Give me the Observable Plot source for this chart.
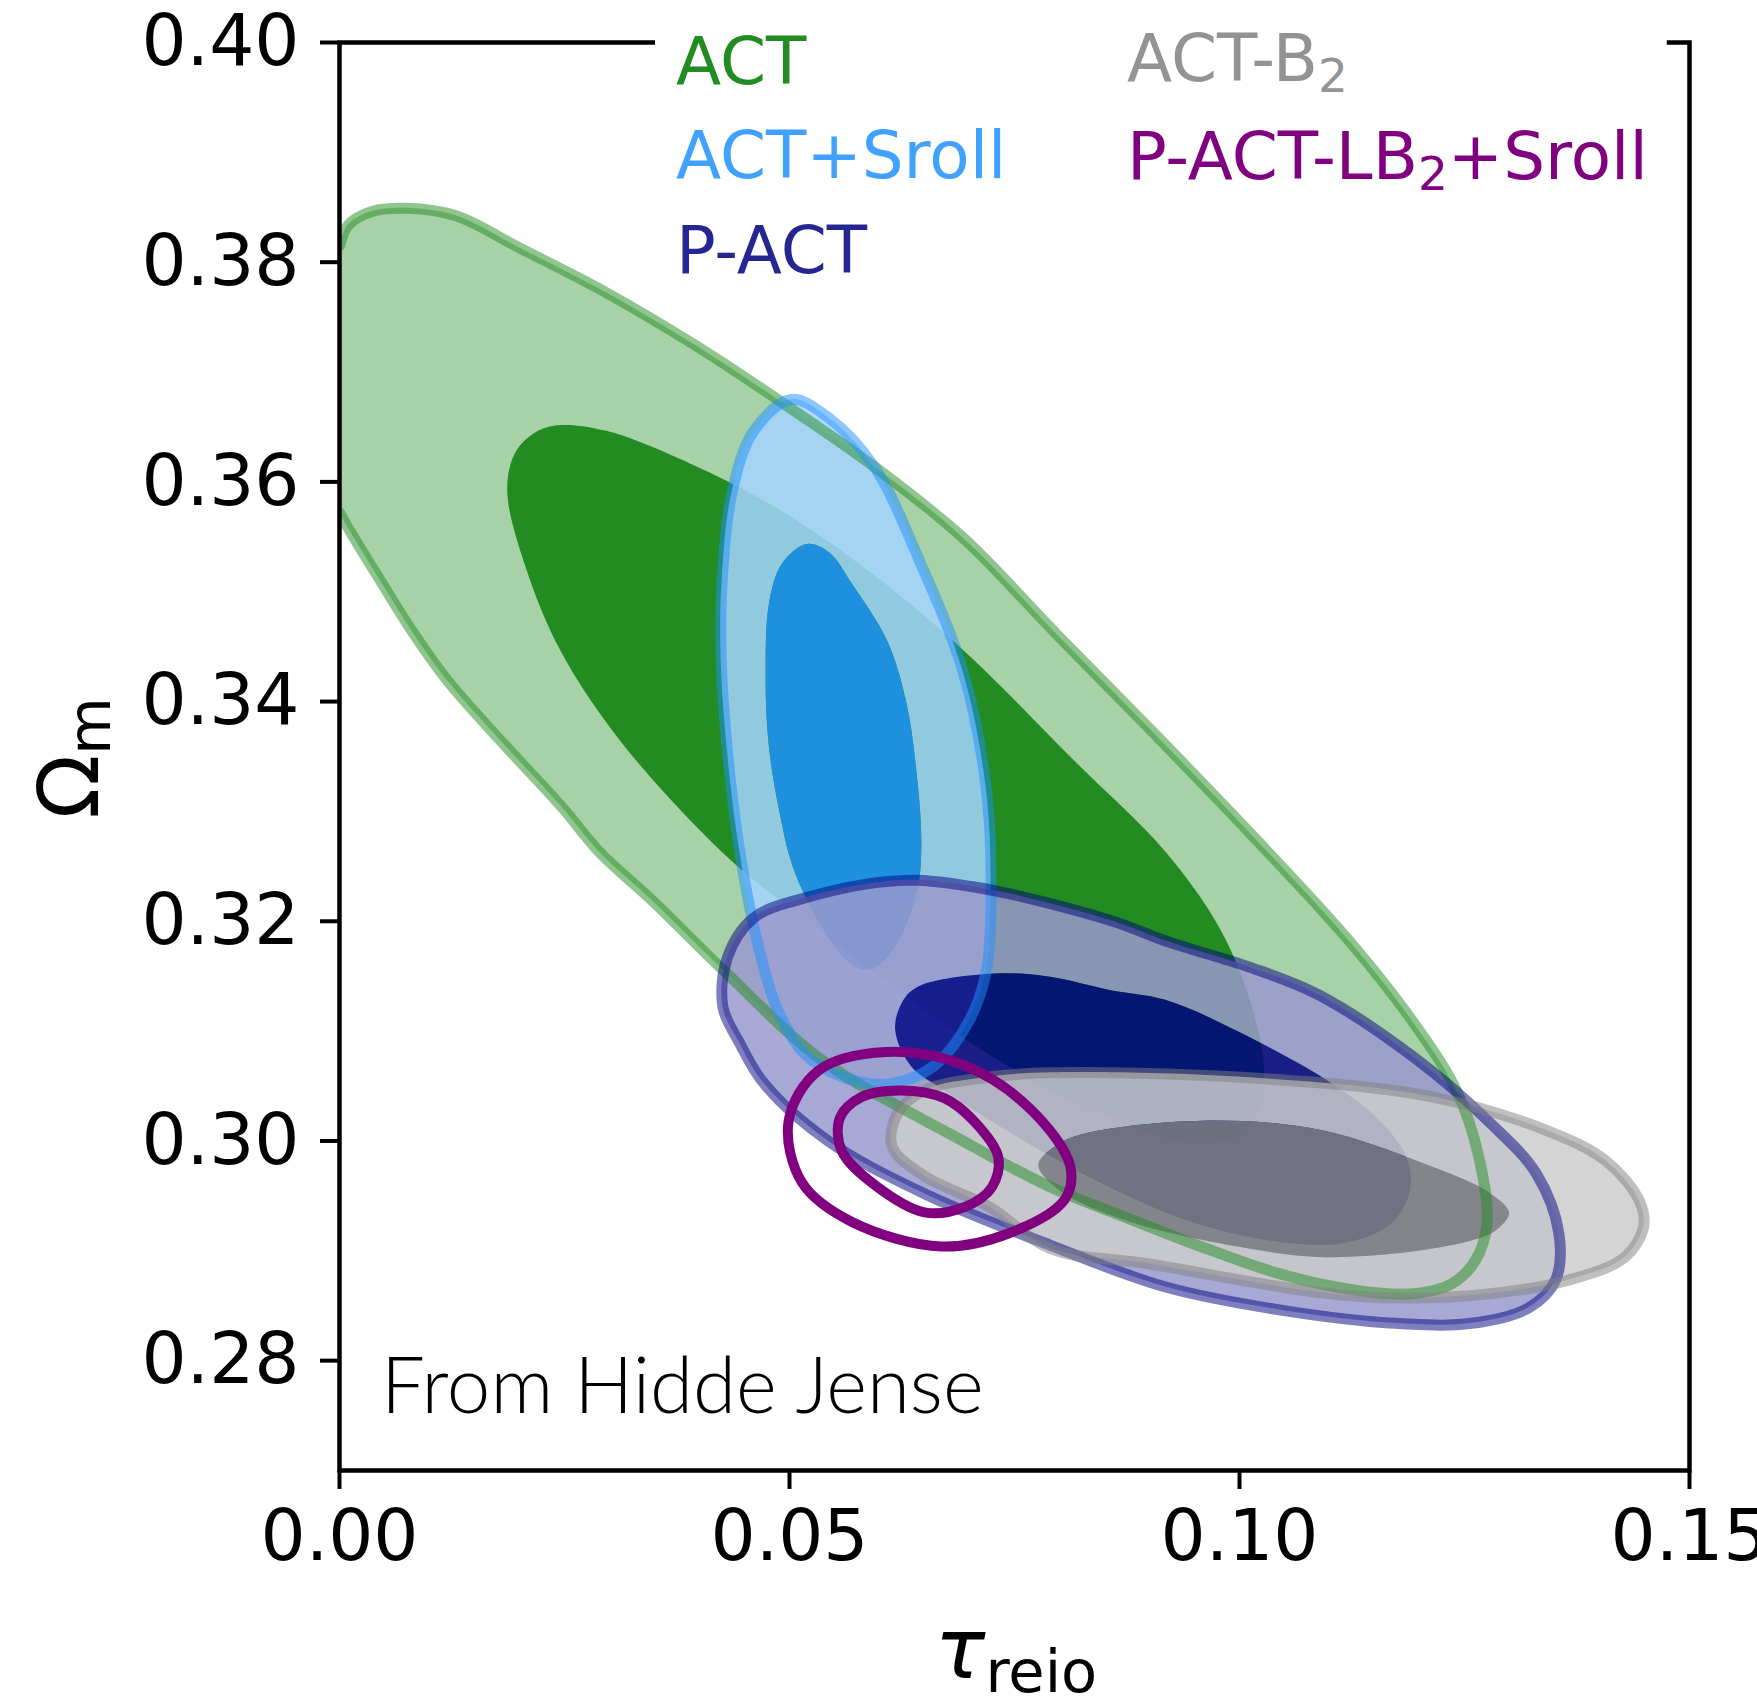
<!DOCTYPE html>
<html><head><meta charset="utf-8">
<script src="https://cdn.jsdelivr.net/npm/d3@7"></script>
<script src="https://cdn.jsdelivr.net/npm/@observablehq/plot@0.6"></script>
<style>
html,body{margin:0;padding:0;background:#fff;overflow:hidden;}
</style></head><body><div id="chart"></div>
<script>
// ---- axis ticks ----
const xTicks = [0.00, 0.05, 0.10, 0.15];
const yTicks = [0.28, 0.30, 0.32, 0.34, 0.36, 0.38, 0.40];
const xDomain = [0, 0.15];
const yDomain = [0.27, 0.40];

// ---- series ----
const seriesNames = ["ACT", "ACT+Sroll", "P-ACT", "ACT-B2", "P-ACT-LB2+Sroll"];
const seriesColors = ["#228B22", "#1E90FF", "#000080", "#808080", "#800080"];

// contour points [tau_reio, Omega_m]
const actOuter = [[0.0000,0.3815],[0.0010,0.3834],[0.0035,0.3846],[0.0075,0.3849],[0.0130,0.3842],[0.0200,0.3813],[0.0297,0.3772],[0.0396,0.3724],[0.0494,0.3671],[0.0594,0.3614],[0.0693,0.3549],[0.0796,0.3462],[0.0898,0.3377],[0.1012,0.3280],[0.1122,0.3182],[0.1194,0.3107],[0.1241,0.3046],[0.1266,0.2985],[0.1275,0.2925],[0.1262,0.2891],[0.1236,0.2870],[0.1194,0.2861],[0.1130,0.2864],[0.1045,0.2879],[0.0960,0.2903],[0.0875,0.2930],[0.0790,0.2958],[0.0686,0.3003],[0.0537,0.3073],[0.0431,0.3152],[0.0346,0.3220],[0.0290,0.3262],[0.0246,0.3305],[0.0184,0.3360],[0.0121,0.3418],[0.0084,0.3460],[0.0047,0.3508],[0.0009,0.3559],[0.0000,0.3572]];
const actInner = [[0.0187,0.3590],[0.0195,0.3625],[0.0215,0.3643],[0.0242,0.3651],[0.0297,0.3646],[0.0396,0.3614],[0.0494,0.3572],[0.0594,0.3515],[0.0694,0.3446],[0.0819,0.3344],[0.0918,0.3263],[0.0980,0.3191],[0.1015,0.3120],[0.1028,0.3060],[0.1020,0.3022],[0.0995,0.3003],[0.0955,0.2998],[0.0900,0.3008],[0.0800,0.3042],[0.0700,0.3090],[0.0600,0.3150],[0.0520,0.3200],[0.0445,0.3248],[0.0370,0.3309],[0.0302,0.3375],[0.0246,0.3446],[0.0209,0.3518]];
const srollOuter = [[0.0502,0.3675],[0.0544,0.3658],[0.0594,0.3614],[0.0644,0.3529],[0.0693,0.3427],[0.0718,0.3325],[0.0724,0.3240],[0.0718,0.3152],[0.0698,0.3107],[0.0660,0.3068],[0.0610,0.3052],[0.0560,0.3058],[0.0516,0.3080],[0.0486,0.3121],[0.0464,0.3182],[0.0443,0.3273],[0.0430,0.3364],[0.0424,0.3440],[0.0425,0.3508],[0.0436,0.3590],[0.0460,0.3646]];
const srollInner = [[0.0520,0.3543],[0.0545,0.3535],[0.0569,0.3508],[0.0609,0.3455],[0.0630,0.3400],[0.0641,0.3340],[0.0647,0.3273],[0.0643,0.3230],[0.0622,0.3182],[0.0600,0.3160],[0.0585,0.3155],[0.0565,0.3163],[0.0546,0.3182],[0.0507,0.3243],[0.0488,0.3305],[0.0477,0.3364],[0.0474,0.3430],[0.0478,0.3490],[0.0492,0.3525]];
const pactOuter = [[0.0426,0.3122],[0.0431,0.3167],[0.0460,0.3203],[0.0516,0.3221],[0.0622,0.3237],[0.0707,0.3231],[0.0856,0.3201],[0.0918,0.3182],[0.1012,0.3158],[0.1088,0.3133],[0.1194,0.3076],[0.1279,0.3016],[0.1330,0.2970],[0.1355,0.2915],[0.1351,0.2873],[0.1321,0.2848],[0.1258,0.2834],[0.1172,0.2834],[0.1046,0.2846],[0.0918,0.2867],[0.0790,0.2905],[0.0650,0.2952],[0.0543,0.3000],[0.0472,0.3052],[0.0444,0.3090]];
const pactInner = [[0.0618,0.3100],[0.0625,0.3125],[0.0643,0.3140],[0.0728,0.3152],[0.0790,0.3149],[0.0856,0.3137],[0.0918,0.3128],[0.1002,0.3098],[0.1109,0.3049],[0.1160,0.3015],[0.1186,0.2985],[0.1190,0.2955],[0.1170,0.2925],[0.1120,0.2907],[0.1050,0.2907],[0.0950,0.2925],[0.0850,0.2960],[0.0750,0.3005],[0.0672,0.3046],[0.0636,0.3067]];
const b2Outer = [[0.0614,0.2995],[0.0620,0.3025],[0.0650,0.3046],[0.0721,0.3058],[0.0790,0.3062],[0.1002,0.3058],[0.1215,0.3040],[0.1343,0.3009],[0.1407,0.2982],[0.1444,0.2946],[0.1449,0.2922],[0.1428,0.2894],[0.1364,0.2873],[0.1279,0.2861],[0.1172,0.2857],[0.1088,0.2862],[0.0900,0.2888],[0.0790,0.2902],[0.0722,0.2940],[0.0650,0.2968]];
const b2Inner = [[0.0777,0.2978],[0.0800,0.2997],[0.0832,0.3007],[0.0960,0.3018],[0.1088,0.3010],[0.1215,0.2976],[0.1279,0.2952],[0.1300,0.2934],[0.1285,0.2918],[0.1258,0.2909],[0.1172,0.2897],[0.1088,0.2894],[0.1002,0.2903],[0.0875,0.2927],[0.0800,0.2955]];
const lbOuter = [[0.0607,0.3081],[0.0694,0.3069],[0.0769,0.3028],[0.0812,0.2977],[0.0806,0.2947],[0.0744,0.2916],[0.0669,0.2904],[0.0570,0.2926],[0.0514,0.2962],[0.0499,0.3018],[0.0532,0.3064]];
const lbInner = [[0.0622,0.3046],[0.0672,0.3039],[0.0705,0.3018],[0.0732,0.2985],[0.0725,0.2958],[0.0695,0.2940],[0.0650,0.2935],[0.0593,0.2961],[0.0558,0.2991],[0.0556,0.3021],[0.0580,0.3040]];

const noteText = "From Hidde Jense";

// ---- helpers ----
const tint = c => d3.interpolateRgb("white", c)(0.4);
const [cAct, cSroll, cPact, cB2, cLb] = seriesColors;
const X = d => d[0], Y = d => d[1];

// filled region (rings: [{pts, closed}]) drawn through Plot's x/y scales; several rings -> even-odd band
const region = (rings, fill, op) => (index, scales, values, dims) => {
  const sx = scales.x, sy = scales.y;
  const d = rings.map(({pts, closed}) =>
    d3.line().x(p => sx(p[0])).y(p => sy(p[1]))
      .curve(closed ? d3.curveCatmullRomClosed.alpha(0.5) : d3.curveCatmullRom.alpha(0.5))(pts)
  ).join("");
  const g = d3.create("svg:g");
  const id = "clip" + Math.random().toString(36).slice(2);
  g.append("clipPath").attr("id", id).append("rect")
    .attr("x", dims.marginLeft).attr("y", dims.marginTop)
    .attr("width", dims.width - dims.marginLeft - dims.marginRight)
    .attr("height", dims.height - dims.marginTop - dims.marginBottom);
  g.append("path").attr("d", d).attr("fill", fill).attr("fill-opacity", op)
    .attr("fill-rule", "evenodd").attr("stroke", "none").attr("clip-path", `url(#${id})`);
  return g.node();
};
const edge = (pts, stroke, op, w, curve = "catmull-rom-closed") =>
  Plot.line(pts, {x: X, y: Y, stroke, strokeOpacity: op, strokeWidth: w, curve, clip: true});

const chart = Plot.plot({
  width: 1757, height: 1700,
  marginLeft: 339, marginRight: 68, marginTop: 42, marginBottom: 230,
  style: {fontFamily: "DejaVu Sans", fontSize: "71px", background: "white", color: "black"},
  x: {domain: xDomain},
  y: {domain: yDomain},
  marks: [
    region([{pts: actOuter, closed: false}], tint(cAct), 1),
    region([{pts: actInner, closed: true}], cAct, 1),
    region([{pts: srollOuter, closed: true}, {pts: srollInner, closed: true}], tint(cSroll), 0.85),
    region([{pts: srollInner, closed: true}], cSroll, 0.85),
    region([{pts: pactOuter, closed: true}, {pts: pactInner, closed: true}], tint(cPact), 0.85),
    region([{pts: pactInner, closed: true}], cPact, 0.85),
    region([{pts: b2Outer, closed: true}, {pts: b2Inner, closed: true}], tint(cB2), 0.85),
    region([{pts: b2Inner, closed: true}], cB2, 0.85),
    edge(actOuter, cAct, 0.5, 11, "catmull-rom"),
    edge(srollOuter, cSroll, 0.5, 11),
    edge(pactOuter, cPact, 0.5, 11),
    edge(b2Outer, cB2, 0.5, 11),
    edge(lbOuter, cLb, 1, 10),
    edge(lbInner, cLb, 1, 10),
    Plot.frame({stroke: "black", strokeWidth: 4.5}),
    Plot.axisX({ticks: xTicks, tickFormat: d3.format(".2f"), tickSize: 19, tickPadding: 20, strokeWidth: 4, fontSize: 71, label: null}),
    Plot.axisY({ticks: yTicks, tickFormat: d3.format(".2f"), tickSize: 19, tickPadding: 21, strokeWidth: 4, fontSize: 71, label: null})
  ]
});
document.getElementById("chart").append(chart);

const svg = d3.select(chart);
const FF = "DejaVu Sans";

// ---- axis labels ----
const yl = svg.append("text").attr("transform", "translate(98,758) rotate(-90)")
  .attr("text-anchor", "middle").attr("font-family", FF).attr("font-size", 84).attr("fill", "black");
yl.append("tspan").text("Ω");
yl.append("tspan").attr("font-size", 59).attr("dy", 12).text("m");

const xl = svg.append("text").attr("x", 1016).attr("y", 1678)
  .attr("text-anchor", "middle").attr("font-family", FF).attr("font-size", 84).attr("fill", "black");
xl.append("tspan").attr("font-style", "italic").text("τ");
xl.append("tspan").attr("font-size", 59).attr("dy", 14).text("reio");

// ---- note ----
svg.append("text").attr("x", 381).attr("y", 1413).attr("text-anchor", "start")
  .attr("font-family", "Lato, 'Open Sans', sans-serif")
  .attr("font-weight", 300).attr("font-size", 78).attr("fill", "black").text(noteText);

// ---- legend ----
const legend = svg.append("g").attr("text-anchor", "start");
const legendPos = [[676, 84], [676, 178], [676, 273], [1127, 81], [1127, 179]];
const legendOpacity = [1, 0.85, 0.85, 0.85, 1];
function addLabel(name, i) {
  const [lx, ly] = legendPos[i];
  const t = legend.append("text").attr("x", lx).attr("y", ly).attr("text-anchor", "start")
    .attr("font-family", FF).attr("font-size", 66)
    .attr("fill", seriesColors[i]).attr("fill-opacity", legendOpacity[i]);
  const m = name.match(/^(.*B)2(.*)$/);
  if (m) {
    t.append("tspan").text(m[1]);
    t.append("tspan").attr("font-size", 47).attr("dy", 11).text("2");
    if (m[2]) t.append("tspan").attr("dy", -11).text(m[2]);
  } else t.text(name);
}
seriesNames.forEach(addLabel);
const bb = legend.node().getBBox();
legend.insert("rect", ":first-child").attr("x", bb.x - 21).attr("y", bb.y - 18)
  .attr("width", bb.width + 40).attr("height", bb.height + 36).attr("fill", "white");
</script></body></html>
